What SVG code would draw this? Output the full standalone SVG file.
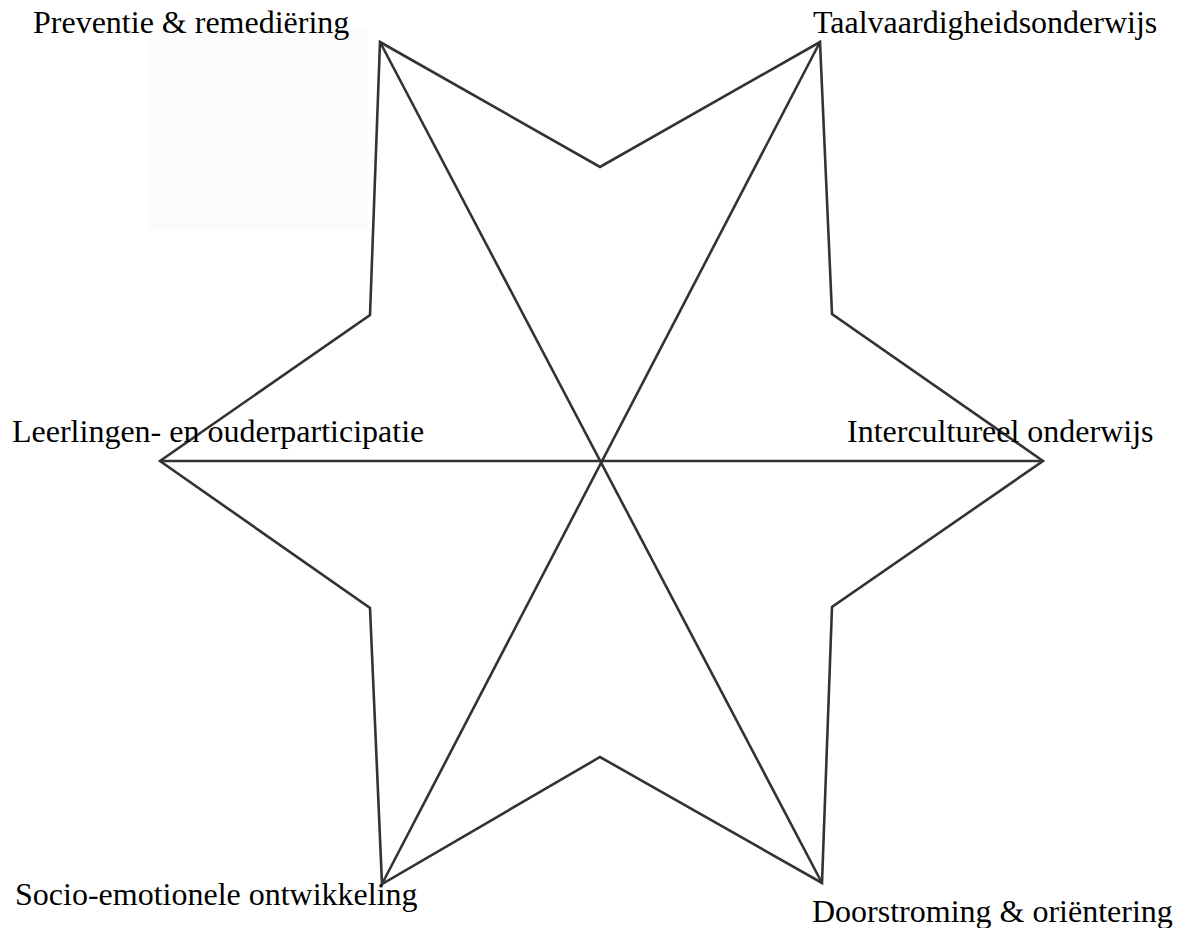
<svg xmlns="http://www.w3.org/2000/svg" width="1181" height="928" viewBox="0 0 1181 928">
<style>
.lbl{font-family:"Liberation Serif","Times New Roman",serif;font-size:32px;fill:#000}
.ln{fill:none;stroke:#333;stroke-width:2.6;stroke-linejoin:miter}
</style>
<rect x="0" y="0" width="1181" height="928" fill="#fff"/>
<rect x="148" y="30" width="220" height="200" fill="#f8f8fa" opacity="0.5"/>
<g id="star">
<polygon class="ln" points="380,42 600,167 820,42 832,314 1043,461 832,607 822,883 600,757 382,884 370,608 160,461 370,315"/>
</g>
<g id="connectors">
<line class="ln" x1="380" y1="42" x2="822" y2="883"/>
<line class="ln" x1="820" y1="42" x2="382" y2="884"/>
<line class="ln" x1="160" y1="461" x2="1043" y2="461"/>
</g>
<g id="n1"><text class="lbl" x="33" y="33">Preventie &amp; remediëring</text></g>
<g id="n2"><text class="lbl" x="813" y="33">Taalvaardigheidsonderwijs</text></g>
<g id="n3"><text class="lbl" x="12" y="442">Leerlingen- en ouderparticipatie</text></g>
<g id="n4"><text class="lbl" x="847" y="442">Intercultureel onderwijs</text></g>
<g id="n5"><text class="lbl" x="15" y="905">Socio-emotionele ontwikkeling</text></g>
<g id="n6"><text class="lbl" x="812" y="922">Doorstroming &amp; oriëntering</text></g>
</svg>
